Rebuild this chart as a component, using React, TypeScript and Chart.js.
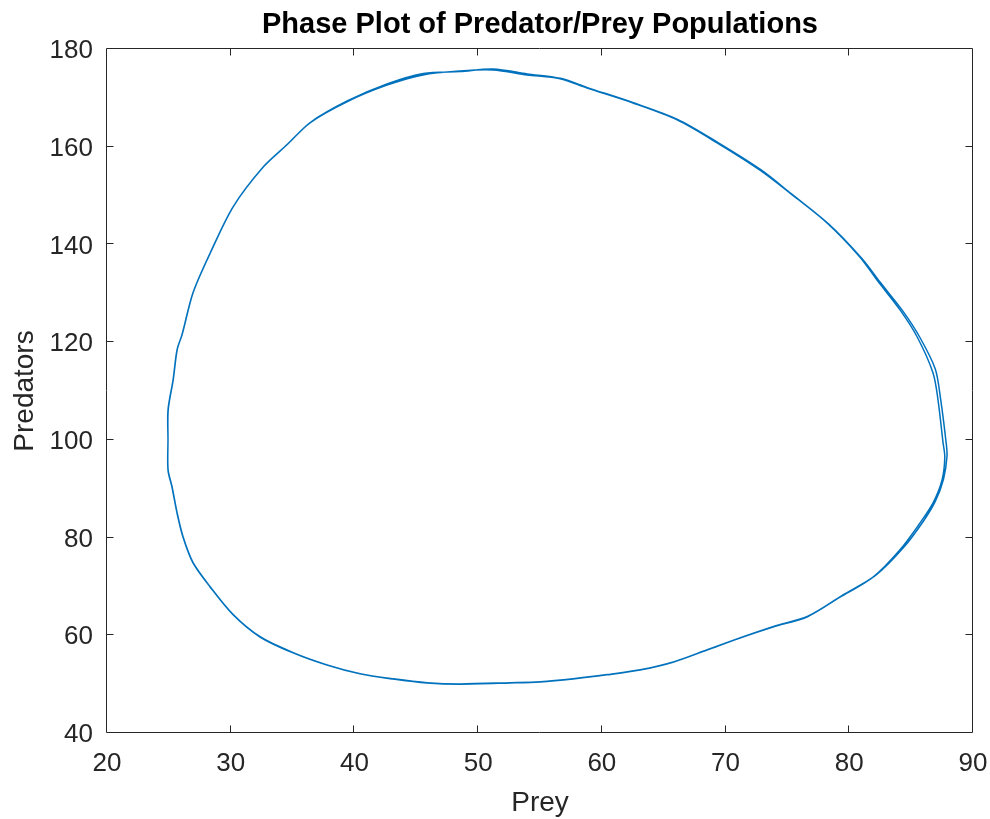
import React, { useEffect, useRef } from "react";
import { Chart, registerables } from "chart.js";

Chart.register(...registerables);

// ---- Data ----
const TITLE = "Phase Plot of Predator/Prey Populations";
const X_LABEL = "Prey";
const Y_LABEL = "Predators";

const xTickValues = [20, 30, 40, 50, 60, 70, 80, 90];
const yTickValues = [40, 60, 80, 100, 120, 140, 160, 180];

// first cycle
const preyA = [24.93, 24.93, 25.34, 25.66, 26.06, 26.95, 28.33, 30.19, 32.61, 34.55, 36.41, 39.40, 42.63, 45.54, 48.53, 51.20, 53.95, 56.62, 58.80, 62.52, 66.08, 69.31, 72.78, 75.21, 78.20, 80.87, 82.24, 84.10, 85.48, 86.77, 87.17, 87.58, 87.72, 87.50, 86.77, 85.72, 84.10, 81.92, 79.25, 76.58, 73.84, 71.17, 68.50, 65.75, 63.09, 60.42, 57.67, 55.00, 52.58, 48.53, 45.87, 43.12, 40.45, 37.78, 35.04, 32.37, 30.19, 28.33, 26.95, 26.14, 25.66, 25.25, 24.93, 24.93];
const predA = [100.0, 106.1, 112.3, 118.4, 121.5, 130.1, 138.2, 147.7, 155.8, 160.4, 164.9, 169.2, 172.6, 174.7, 175.5, 175.7, 174.7, 173.9, 172.0, 168.95, 165.5, 160.8, 155.2, 150.5, 144.4, 137.4, 132.7, 126.6, 121.1, 113.7, 108.2, 99.4, 96.5, 91.8, 87.1, 83.0, 77.5, 71.9, 67.8, 63.75, 61.7, 59.45, 57.0, 54.5, 52.9, 51.9, 51.05, 50.45, 50.24, 50.0, 50.24, 51.05, 52.1, 53.9, 56.4, 59.65, 64.2, 69.9, 74.8, 80.1, 85.0, 90.35, 93.8, 100.0];

// second cycle (slightly offset trace visible on the right and top)
const preyB = [24.93, 24.95, 25.36, 25.68, 26.08, 26.97, 28.36, 30.22, 32.64, 34.58, 36.45, 39.45, 42.68, 45.58, 48.55, 51.22, 53.97, 56.64, 58.83, 62.55, 66.12, 69.36, 72.85, 75.30, 78.32, 81.02, 82.45, 84.32, 85.70, 86.95, 87.38, 87.82, 87.90, 87.62, 86.95, 86.00, 84.40, 82.15, 79.40, 76.65, 73.88, 71.20, 68.52, 65.77, 63.10, 60.43, 57.68, 55.01, 52.59, 48.54, 45.88, 43.13, 40.46, 37.79, 35.05, 32.38, 30.20, 28.34, 26.96, 26.15, 25.67, 25.26, 24.94, 24.93];
const predB = [100.0, 106.2, 112.4, 118.5, 121.6, 130.2, 138.3, 147.8, 155.9, 160.5, 165.0, 169.4, 172.9, 175.0, 175.4, 175.9, 174.9, 174.0, 172.1, 169.0, 165.6, 160.9, 155.3, 150.4, 144.2, 137.1, 132.4, 126.4, 121.0, 114.5, 108.4, 99.6, 96.7, 92.0, 87.4, 83.4, 78.0, 72.3, 68.1, 63.9, 61.8, 59.5, 57.05, 54.55, 52.95, 51.95, 51.1, 50.5, 50.3, 50.05, 50.3, 51.1, 52.15, 53.95, 56.45, 59.7, 64.25, 69.95, 74.85, 80.15, 85.05, 90.4, 93.85, 100.0];

// ---- Styling ----
const FONT = '"Liberation Sans", Arial, Helvetica, sans-serif';
const AXIS_COLOR = "#262626";
const LINE_COLOR = "#0072BD";

const points = [
  ...preyA.map((x, i) => ({ x, y: predA[i] })),
  ...preyB.map((x, i) => ({ x, y: predB[i] })),
];

const framePlugin = {
  id: "matlabFrame",
  afterDraw(chart: any) {
    const { ctx, chartArea: a, scales } = chart;
    const L = Math.round(a.left) - 0.5;
    const R = Math.round(a.right) - 0.5;
    const T = Math.round(a.top) - 0.5;
    const B = Math.round(a.bottom) - 0.5;
    ctx.save();
    ctx.strokeStyle = AXIS_COLOR;
    ctx.lineWidth = 1;
    ctx.beginPath();
    ctx.rect(L, T, R - L, B - T);
    ctx.stroke();
    const tl = 7;
    ctx.beginPath();
    for (const v of xTickValues) {
      const px = Math.round(scales.x.getPixelForValue(v)) - 0.5;
      if (px <= L + 1 || px >= R - 1) continue;
      ctx.moveTo(px, B);
      ctx.lineTo(px, B - tl);
      ctx.moveTo(px, T);
      ctx.lineTo(px, T + tl);
    }
    for (const v of yTickValues) {
      const py = Math.round(scales.y.getPixelForValue(v)) - 0.5;
      if (py <= T + 1 || py >= B - 1) continue;
      ctx.moveTo(L, py);
      ctx.lineTo(L + tl, py);
      ctx.moveTo(R, py);
      ctx.lineTo(R - tl, py);
    }
    ctx.stroke();

    const cx = (a.left + a.right) / 2;
    const cy = (a.top + a.bottom) / 2;
    ctx.fillStyle = "#000000";
    ctx.textAlign = "center";
    ctx.textBaseline = "alphabetic";
    ctx.font = `bold 29px ${FONT}`;
    ctx.fillText(TITLE, cx, 33);

    ctx.fillStyle = AXIS_COLOR;
    ctx.font = `28px ${FONT}`;
    ctx.fillText(X_LABEL, cx, 811);

    ctx.translate(33, cy);
    ctx.rotate(-Math.PI / 2);
    ctx.fillText(Y_LABEL, 0, 0);
    ctx.restore();
  },
};

export default function App() {
  const ref = useRef<HTMLCanvasElement | null>(null);
  useEffect(() => {
    if (!ref.current) return;
    const chart = new Chart(ref.current, {
      type: "scatter",
      data: {
        datasets: [
          {
            data: points,
            showLine: true,
            borderColor: LINE_COLOR,
            backgroundColor: LINE_COLOR,
            borderWidth: 1.5,
            pointRadius: 0,
            tension: 0.3,
          },
        ],
      },
      options: {
        animation: false,
        responsive: false,
        layout: { padding: { top: 49, right: 17, left: 0, bottom: 0 } },
        plugins: {
          legend: { display: false },
          tooltip: { enabled: false },
          title: { display: false },
        },
        scales: {
          x: {
            type: "linear",
            min: 20,
            max: 90,
            afterBuildTicks: (s: any) => {
              s.ticks = xTickValues.map((v) => ({ value: v }));
            },
            ticks: {
              font: { family: FONT, size: 26 },
              color: AXIS_COLOR,
              padding: 15,
              maxRotation: 0,
            },
            grid: { display: false, drawTicks: false },
            border: { display: false },
            afterFit: (s: any) => {
              s.height = 86;
              s.paddingLeft = 0;
              s.paddingRight = 0;
            },
          },
          y: {
            type: "linear",
            min: 40,
            max: 180,
            afterBuildTicks: (s: any) => {
              s.ticks = yTickValues.map((v) => ({ value: v }));
            },
            ticks: {
              font: { family: FONT, size: 26 },
              color: AXIS_COLOR,
              padding: 14,
              labelOffset: 2,
            },
            grid: { display: false, drawTicks: false },
            border: { display: false },
            afterFit: (s: any) => {
              s.width = 107;
              s.paddingTop = 0;
              s.paddingBottom = 0;
            },
          },
        },
      },
      plugins: [framePlugin],
    } as any);
    return () => chart.destroy();
  }, []);

  return (
    <div style={{ position: "fixed", left: 0, top: 0, width: 990, height: 819, background: "#ffffff" }}>
      <canvas ref={ref} width={990} height={819} />
    </div>
  );
}
